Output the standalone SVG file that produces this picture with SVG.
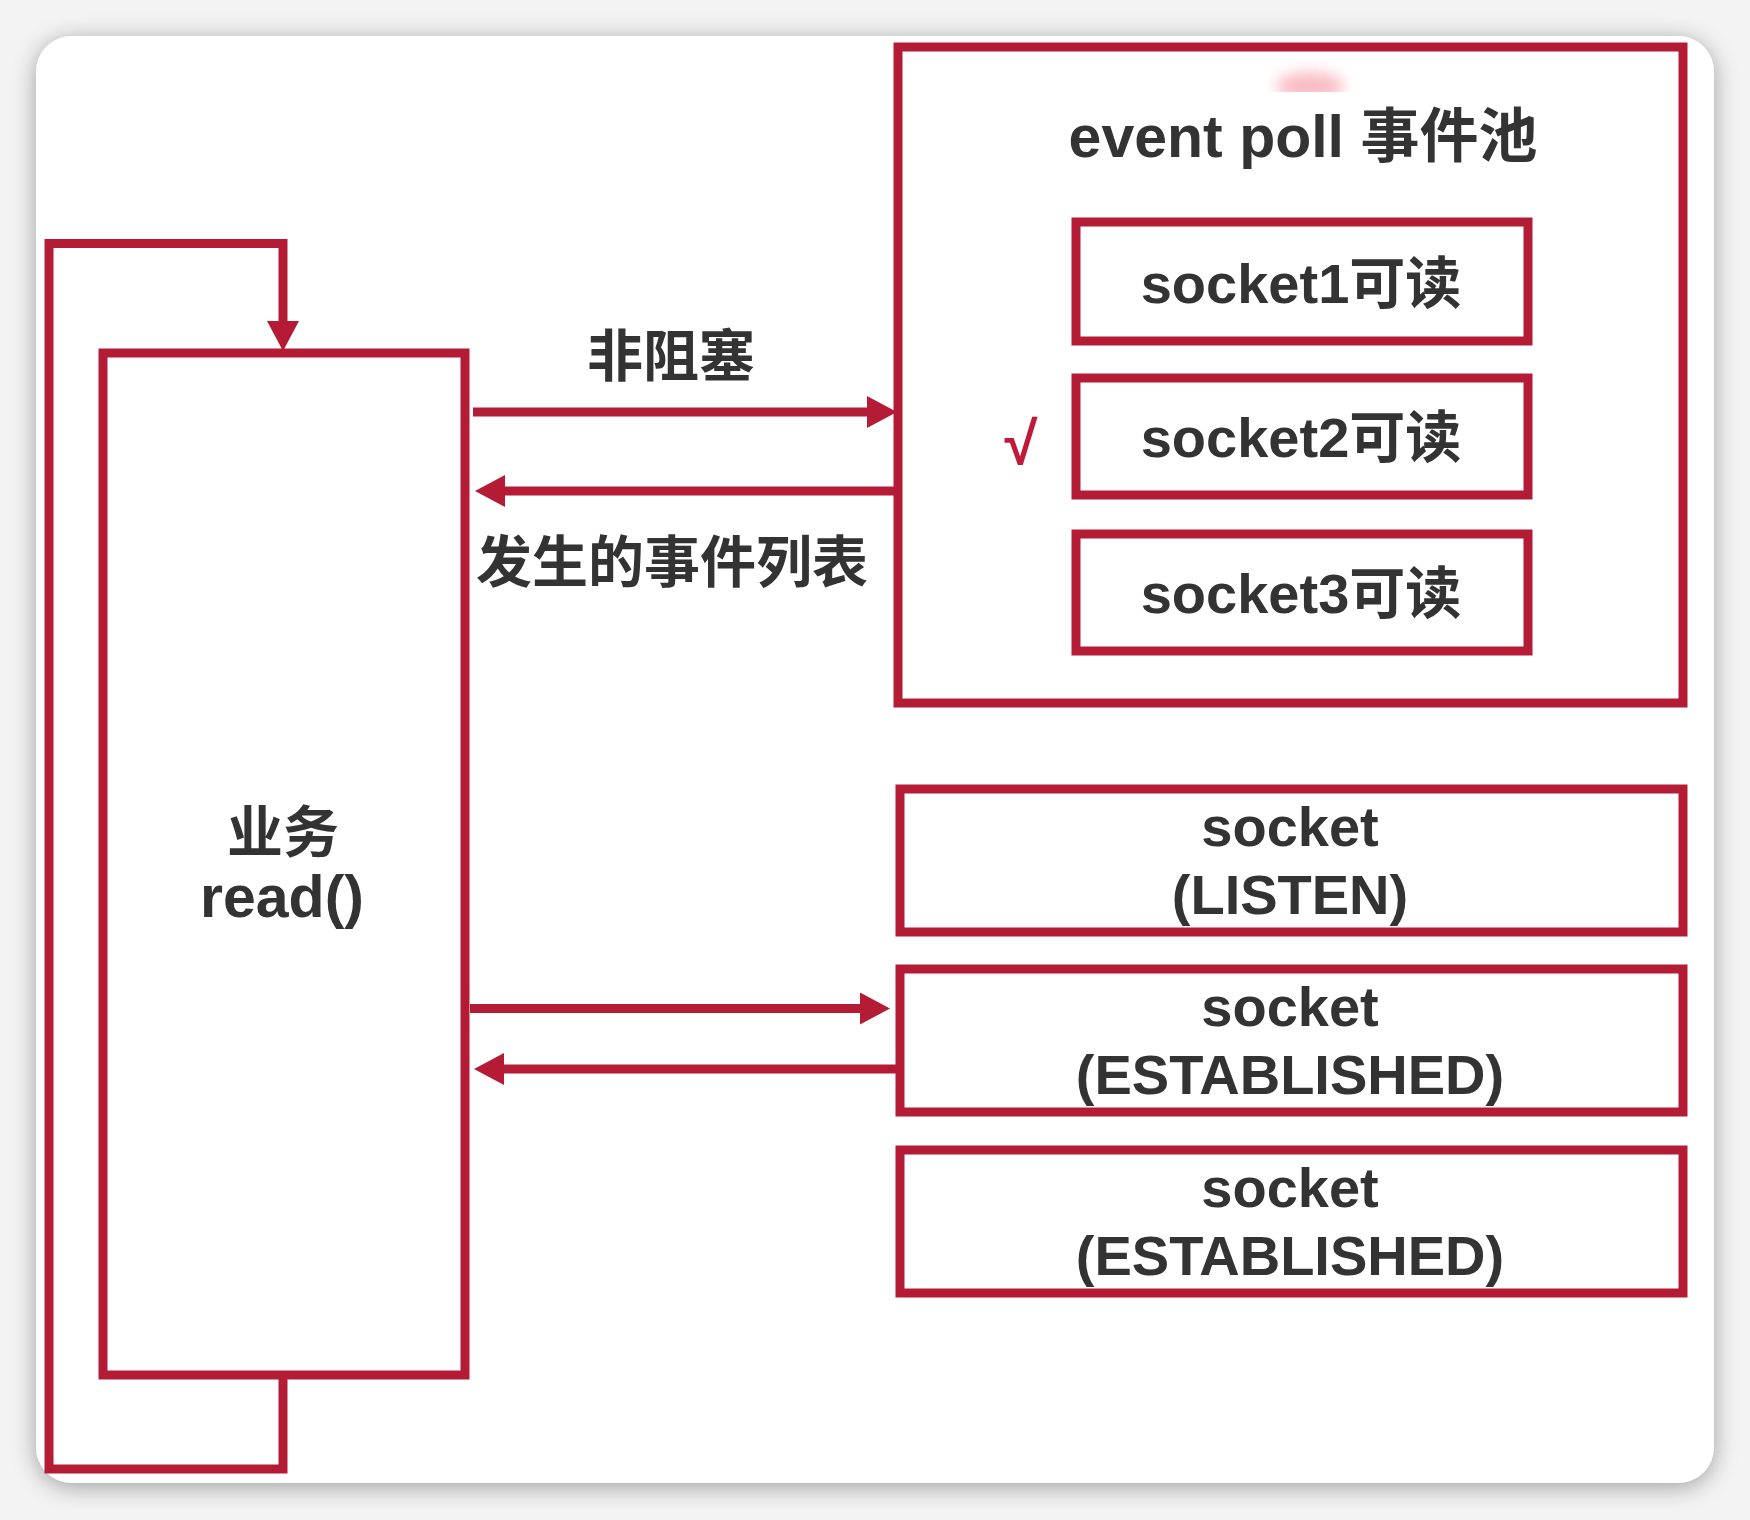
<svg xmlns="http://www.w3.org/2000/svg" width="1750" height="1520" viewBox="0 0 1750 1520">
  <style>
    .box { fill: none; stroke: #b41b35; stroke-width: 9; stroke-linejoin: miter; }
    .wire { fill: none; stroke: #b41b35; stroke-width: 9; }
    .t { font-family: "Liberation Sans", "Noto Sans CJK SC", sans-serif; font-weight: 700; font-size: 56px; fill: #333333; text-anchor: middle; }
    .big { font-size: 59px; }
  </style>
  <defs>
    <filter id="shadow" x="-5%" y="-5%" width="110%" height="110%">
      <feGaussianBlur in="SourceAlpha" stdDeviation="12"/>
      <feOffset dy="4" result="b"/>
      <feComponentTransfer><feFuncA type="linear" slope="0.35"/></feComponentTransfer>
      <feMerge><feMergeNode/><feMergeNode in="SourceGraphic"/></feMerge>
    </filter>
    <filter id="blur" x="-50%" y="-100%" width="200%" height="300%">
      <feGaussianBlur stdDeviation="7"/>
    </filter>
    <clipPath id="blobclip"><rect x="1250" y="50" width="120" height="42"/></clipPath>
    <marker id="ah" markerWidth="30" markerHeight="32" refX="0" refY="16" orient="auto" markerUnits="userSpaceOnUse">
      <path d="M0,0 L30,16 L0,32 z" fill="#b41b35"/>
    </marker>
  </defs>

  <rect x="0" y="0" width="1750" height="1520" fill="#f3f3f3"/>
  <rect id="card" x="36" y="36" width="1678" height="1447" rx="36" ry="36" fill="#ffffff" filter="url(#shadow)"/>

  <g clip-path="url(#blobclip)">
    <ellipse cx="1310" cy="86" rx="34" ry="14" fill="#f5909c" opacity="0.6" filter="url(#blur)"/>
  </g>

  <g id="connectors">
    <path class="wire" d="M283,1375 V1469 H49 V243.5 H283 V321" marker-end="url(#ah)"/>
    <path class="wire" d="M473,412 H867" marker-end="url(#ah)"/>
    <path class="wire" d="M899,491 H505" marker-end="url(#ah)"/>
    <path class="wire" d="M470,1008.5 H860" marker-end="url(#ah)"/>
    <path class="wire" d="M899,1069 H504" marker-end="url(#ah)"/>
  </g>

  <g id="label-nonblocking">
    <text class="t" x="671" y="376">非阻塞</text>
  </g>
  <g id="label-events">
    <text class="t" x="672" y="582">发生的事件列表</text>
  </g>

  <g id="business">
    <rect class="box" x="103" y="353" width="362" height="1022"/>
    <text class="t" x="283" y="852">业务<tspan class="big" x="282" dy="65">read()</tspan></text>
  </g>

  <g id="eventpoll">
    <rect class="box" x="898" y="47" width="785" height="656" stroke-width="10"/>
    <text class="t big" x="1303" y="157">event poll 事件池</text>
  </g>

  <g id="socket1">
    <rect class="box" x="1076" y="222" width="452" height="119" stroke-width="8"/>
    <text class="t" x="1301" y="303">socket1可读</text>
  </g>
  <g id="check">
    <text x="1021" y="464" font-family="Liberation Sans, DejaVu Sans, sans-serif" font-weight="700" font-size="60" fill="#c0193a" text-anchor="middle">√</text>
  </g>
  <g id="socket2">
    <rect class="box" x="1076" y="378" width="452" height="117" stroke-width="8"/>
    <text class="t" x="1301" y="457">socket2可读</text>
  </g>
  <g id="socket3">
    <rect class="box" x="1076" y="534" width="452" height="117" stroke-width="8"/>
    <text class="t" x="1301" y="613">socket3可读</text>
  </g>

  <g id="socket-listen">
    <rect class="box" x="900" y="789" width="783" height="143" stroke-width="10"/>
    <text class="t" x="1290" y="846">socket<tspan x="1290" dy="68">(LISTEN)</tspan></text>
  </g>
  <g id="socket-established-1">
    <rect class="box" x="900" y="969" width="783" height="143" stroke-width="10"/>
    <text class="t" x="1290" y="1026">socket<tspan x="1290" dy="68">(ESTABLISHED)</tspan></text>
  </g>
  <g id="socket-established-2">
    <rect class="box" x="900" y="1150" width="783" height="143" stroke-width="10"/>
    <text class="t" x="1290" y="1207">socket<tspan x="1290" dy="68">(ESTABLISHED)</tspan></text>
  </g>
</svg>
